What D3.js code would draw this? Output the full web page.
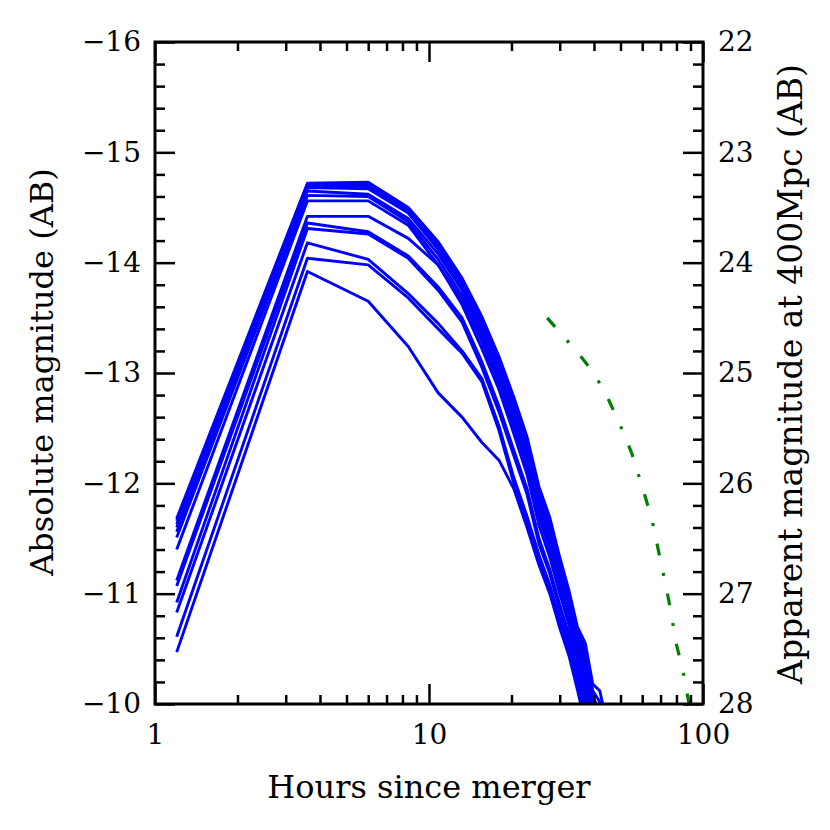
<!DOCTYPE html>
<html>
<head>
<meta charset="utf-8">
<script src="https://cdn.jsdelivr.net/npm/d3@7"></script>
<style>
  body { margin: 0; background: #fff; }
  text { font-family: "DejaVu Serif", serif; fill: #000; }
</style>
</head>
<body>
<div class="chart"></div>
<script>
// time grid of the model light curves (hours)
let hours = [1.2, 3.6, 6.0, 8.4, 10.8, 13.2, 15.6, 18.0, 20.4, 22.8, 25.2, 27.6, 30.0, 32.4, 34.8, 37.2, 39.6, 42.0, 44.4];

// absolute magnitude of each blue model, one row per model
let blueMags = [
  [-11.68, -14.72, -14.73, -14.50, -14.19, -13.86, -13.51, -13.15, -12.78, -12.42, -11.97, -11.69, -11.33, -11.03, -10.70, -10.55, -10.18, -10.12, -9.85],
  [-11.66, -14.71, -14.72, -14.49, -14.17, -13.84, -13.48, -13.12, -12.75, -12.39, -11.94, -11.65, -11.30, -11.00, -10.67, -10.50, -10.12, -10.02, -9.80],
  [-11.63, -14.70, -14.69, -14.47, -14.15, -13.82, -13.45, -13.08, -12.71, -12.35, -11.90, -11.60, -11.26, -10.96, -10.64, -10.45, -10.06, -9.95, -9.75],
  [-11.60, -14.68, -14.67, -14.45, -14.12, -13.79, -13.42, -13.04, -12.67, -12.30, -11.86, -11.56, -11.22, -10.92, -10.60, -10.38, -10.00, -9.90, -9.70],
  [-11.56, -14.65, -14.62, -14.40, -14.08, -13.75, -13.38, -13.00, -12.62, -12.25, -11.80, -11.50, -11.17, -10.87, -10.55, -10.30, -9.92, -9.85, -9.65],
  [-11.51, -14.61, -14.60, -14.37, -14.03, -13.70, -13.33, -12.95, -12.57, -12.20, -11.75, -11.45, -11.12, -10.82, -10.50, -10.22, -9.85, -9.80, -9.60],
  [-11.40, -14.56, -14.56, -14.34, -13.98, -13.66, -13.28, -12.90, -12.52, -12.15, -11.70, -11.40, -11.07, -10.78, -10.45, -10.15, -9.78, -9.70, -9.55],
  [-11.12, -14.42, -14.42, -14.22, -13.98, -13.62, -13.22, -12.85, -12.45, -12.08, -11.62, -11.33, -11.00, -10.72, -10.40, -10.08, -9.72, -9.65, -9.50],
  [-11.07, -14.36, -14.28, -14.06, -13.78, -13.50, -13.10, -12.70, -12.30, -11.95, -11.50, -11.22, -10.90, -10.63, -10.30, -9.98, -9.65, -9.60, -9.45],
  [-10.92, -14.31, -14.26, -14.04, -13.75, -13.46, -13.05, -12.65, -12.25, -11.90, -11.45, -11.18, -10.86, -10.58, -10.27, -9.95, -9.62, -9.55, -9.40],
  [-10.83, -14.18, -14.03, -13.72, -13.45, -13.20, -12.95, -12.52, -12.05, -11.70, -11.35, -11.08, -10.78, -10.52, -10.20, -9.88, -9.58, -9.50, -9.35],
  [-10.61, -14.04, -13.98, -13.68, -13.40, -13.18, -12.92, -12.48, -12.00, -11.65, -11.30, -11.03, -10.73, -10.48, -10.16, -9.85, -9.55, -9.45, -9.30],
  [-10.47, -13.92, -13.65, -13.24, -12.82, -12.60, -12.37, -12.21, -11.95, -11.60, -11.26, -11.00, -10.69, -10.44, -10.13, -9.82, -9.50, -9.40, -9.25]
];

// green dash-dot curve
let greenHours = [27, 30, 35, 40, 45, 50, 55, 60, 65, 70, 75, 80, 85, 90];
let greenMags = [-13.50, -13.37, -13.18, -13.00, -12.77, -12.52, -12.27, -11.97, -11.68, -11.30, -10.94, -10.54, -10.27, -9.93];

// ticks
let xMajor = [1, 10, 100];
let xMinor = [2, 3, 4, 5, 6, 7, 8, 9, 20, 30, 40, 50, 60, 70, 80, 90];
let yMajor = [-16, -15, -14, -13, -12, -11, -10];
let yRightMajor = [22, 23, 24, 25, 26, 27, 28];

let svgWidth = 830;
let svgHeight = 830;
let margin = { top: 42, right: 127, bottom: 126, left: 155 };
let width = svgWidth - margin.left - margin.right;
let height = svgHeight - margin.top - margin.bottom;

let svg = d3.select(".chart").append("svg")
  .attr("width", svgWidth)
  .attr("height", svgHeight);

let chartGroup = svg.append("g")
  .attr("transform", `translate(${margin.left}, ${margin.top})`);

let xScale = d3.scaleLog().domain([1, 100]).range([0, width]);
let yScale = d3.scaleLinear().domain([-16, -10]).range([0, height]);
let yRightScale = d3.scaleLinear().domain([22, 28]).range([0, height]);

// minor y ticks every 0.2 mag
let yMinor = d3.range(0, 31).map(i => -16 + i * 0.2).filter(v => Math.abs(v - Math.round(v)) > 1e-6);
let yRightMinor = yMinor.map(v => v + 38);

chartGroup.append("clipPath").attr("id", "plotclip")
  .append("rect").attr("width", width).attr("height", height);

let lineGen = d3.line()
  .x(d => xScale(d[0]))
  .y(d => yScale(d[1]));

let plotArea = chartGroup.append("g").attr("clip-path", "url(#plotclip)");

plotArea.selectAll(".blue")
  .data(blueMags)
  .enter()
  .append("path")
  .attr("class", "blue")
  .attr("d", row => lineGen(row.map((m, i) => [hours[i], m])))
  .attr("fill", "none")
  .attr("stroke", "#0000ff")
  .attr("stroke-width", 2.9)
  .attr("stroke-linejoin", "round");

plotArea.append("path")
  .attr("d", lineGen(greenMags.map((m, i) => [greenHours[i], m])))
  .attr("fill", "none")
  .attr("stroke", "#008000")
  .attr("stroke-width", 3.2)
  .attr("stroke-dasharray", "12,18,3,18");

// axes
function styleAxis(g) {
  g.select(".domain").remove();
  g.selectAll(".tick line").attr("stroke", "#000").attr("stroke-width", 2.5);
  g.selectAll("text").attr("font-size", 28).attr("font-family", "DejaVu Serif");
}

let fmt = d3.format("d");

chartGroup.append("g")
  .attr("transform", `translate(0, ${height})`)
  .call(d3.axisBottom(xScale).tickValues(xMajor).tickSize(-20).tickPadding(20).tickFormat(fmt))
  .call(styleAxis);
chartGroup.append("g")
  .attr("transform", `translate(0, ${height})`)
  .call(d3.axisBottom(xScale).tickValues(xMinor).tickSize(-9).tickFormat(""))
  .call(styleAxis);
chartGroup.append("g")
  .call(d3.axisTop(xScale).tickValues(xMajor).tickSize(-20).tickFormat(""))
  .call(styleAxis);
chartGroup.append("g")
  .call(d3.axisTop(xScale).tickValues(xMinor).tickSize(-9).tickFormat(""))
  .call(styleAxis);

chartGroup.append("g")
  .call(d3.axisLeft(yScale).tickValues(yMajor).tickSize(-20).tickPadding(14).tickFormat(fmt))
  .call(styleAxis);
chartGroup.append("g")
  .call(d3.axisLeft(yScale).tickValues(yMinor).tickSize(-10).tickFormat(""))
  .call(styleAxis);

chartGroup.append("g")
  .attr("transform", `translate(${width}, 0)`)
  .call(d3.axisRight(yRightScale).tickValues(yRightMajor).tickSize(-20).tickPadding(15).tickFormat(fmt))
  .call(styleAxis);
chartGroup.append("g")
  .attr("transform", `translate(${width}, 0)`)
  .call(d3.axisRight(yRightScale).tickValues(yRightMinor).tickSize(-10).tickFormat(""))
  .call(styleAxis);

// frame
chartGroup.append("rect")
  .attr("width", width)
  .attr("height", height)
  .attr("fill", "none")
  .attr("stroke", "#000")
  .attr("stroke-width", 3);

// axis labels
svg.append("text")
  .attr("x", margin.left + width / 2)
  .attr("y", 798)
  .attr("text-anchor", "middle")
  .attr("font-size", 32)
  .text("Hours since merger");

svg.append("text")
  .attr("transform", "translate(53, 372) rotate(-90)")
  .attr("text-anchor", "middle")
  .attr("font-size", 32)
  .text("Absolute magnitude (AB)");

svg.append("text")
  .attr("transform", "translate(802, 374) rotate(-90)")
  .attr("text-anchor", "middle")
  .attr("font-size", 33)
  .text("Apparent magnitude at 400Mpc (AB)");
</script>
</body>
</html>
